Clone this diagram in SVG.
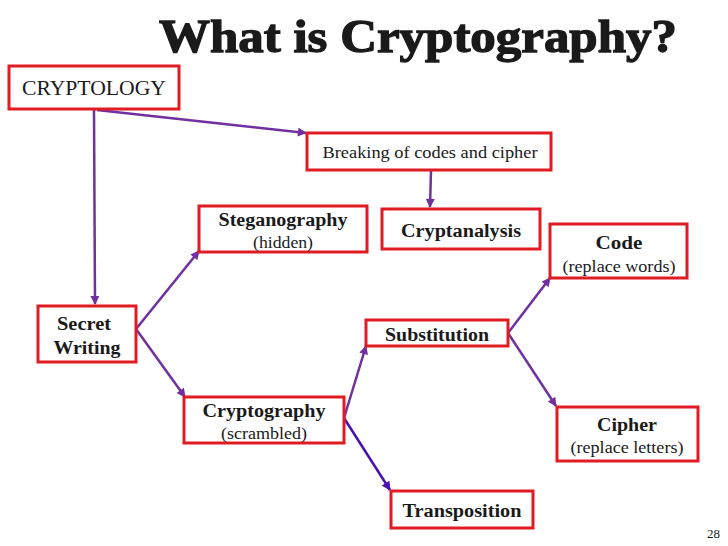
<svg xmlns="http://www.w3.org/2000/svg" width="728" height="546" viewBox="0 0 728 546">
<defs>
<style>
.box{fill:#fff;stroke:#e01b22;stroke-width:3}
.b{font-family:'Liberation Serif', serif;font-weight:bold;font-size:18px;fill:#1a1a1a;text-anchor:middle}
.r{font-family:'Liberation Serif', serif;font-size:17px;fill:#1a1a1a;text-anchor:middle}
.c{fill:none;stroke:#7030a0;stroke-width:2.5}
</style>
<marker id="ah" viewBox="0 0 10 10" refX="9" refY="5" markerUnits="userSpaceOnUse" markerWidth="10" markerHeight="9" orient="auto">
<path d="M0,0 L10,5 L0,10 z" fill="#7030a0"/>
</marker>
<marker id="ah2" viewBox="0 0 10 10" refX="9" refY="5" markerUnits="userSpaceOnUse" markerWidth="10" markerHeight="9" orient="auto">
<path d="M0,0 L10,5 L0,10 z" fill="#4a10b0"/>
</marker>
</defs>
<rect width="728" height="546" fill="#fff"/>
<text x="159" y="52" font-family="'Liberation Serif', serif" font-weight="bold" font-size="46" fill="#1a1a1a" stroke="#1a1a1a" stroke-width="1.3" textLength="518" lengthAdjust="spacingAndGlyphs">What is Cryptography?</text>

<g id="connectors">
<path class="c" d="M94,110 L95,304" marker-end="url(#ah)"/>
<path class="c" d="M97,110 L306,133" marker-end="url(#ah)"/>
<path class="c" d="M431,171 L430,207" marker-end="url(#ah)"/>
<path class="c" d="M136,329 L199,251" marker-end="url(#ah)"/>
<path class="c" d="M136,329 L185,397" marker-end="url(#ah)"/>
<path class="c" d="M344,418 L366,346" marker-end="url(#ah)"/>
<path class="c" d="M344,418 L390,490" style="stroke:#4a10b0" marker-end="url(#ah2)"/>
<path class="c" d="M508,333 L550,278" marker-end="url(#ah)"/>
<path class="c" d="M508,333 L556,406" marker-end="url(#ah)"/>
</g>

<g id="cryptology">
<rect class="box" x="9" y="66" width="170" height="43"/>
<text class="r" x="94" y="95" style="font-size:20px" textLength="144" lengthAdjust="spacingAndGlyphs">CRYPTOLOGY</text>
</g>
<g id="breaking">
<rect class="box" x="307" y="133" width="244" height="37"/>
<text class="r" x="430" y="158" textLength="215" lengthAdjust="spacingAndGlyphs">Breaking of codes and cipher</text>
</g>
<g id="steganography">
<rect class="box" x="199" y="206" width="168" height="46"/>
<text class="b" x="283" y="226" textLength="129" lengthAdjust="spacingAndGlyphs">Steganography</text>
<text class="r" x="283" y="248" textLength="60" lengthAdjust="spacingAndGlyphs">(hidden)</text>
</g>
<g id="cryptanalysis">
<rect class="box" x="382" y="209" width="158" height="40"/>
<text class="b" x="461" y="237" textLength="120" lengthAdjust="spacingAndGlyphs">Cryptanalysis</text>
</g>
<g id="code">
<rect class="box" x="550" y="224" width="137" height="54"/>
<text class="b" x="619" y="249" textLength="47" lengthAdjust="spacingAndGlyphs">Code</text>
<text class="r" x="619" y="272" textLength="113" lengthAdjust="spacingAndGlyphs">(replace words)</text>
</g>
<g id="secret-writing">
<rect class="box" x="38" y="306" width="98" height="56"/>
<text class="b" x="84" y="330" textLength="54" lengthAdjust="spacingAndGlyphs">Secret</text>
<text class="b" x="87" y="354" textLength="67" lengthAdjust="spacingAndGlyphs">Writing</text>
</g>
<g id="substitution">
<rect class="box" x="366" y="320" width="142" height="26"/>
<text class="b" x="437" y="341" textLength="104" lengthAdjust="spacingAndGlyphs">Substitution</text>
</g>
<g id="cryptography">
<rect class="box" x="184" y="397" width="160" height="46"/>
<text class="b" x="264" y="417" textLength="123" lengthAdjust="spacingAndGlyphs">Cryptography</text>
<text class="r" x="264" y="439" textLength="86" lengthAdjust="spacingAndGlyphs">(scrambled)</text>
</g>
<g id="cipher">
<rect class="box" x="557" y="407" width="141" height="54"/>
<text class="b" x="627" y="431" textLength="60" lengthAdjust="spacingAndGlyphs">Cipher</text>
<text class="r" x="627" y="453" textLength="113" lengthAdjust="spacingAndGlyphs">(replace letters)</text>
</g>
<g id="transposition">
<rect class="box" x="391" y="491" width="142" height="37"/>
<text class="b" x="462" y="517" textLength="119" lengthAdjust="spacingAndGlyphs">Transposition</text>
</g>
<text x="720" y="538" font-family="'Liberation Serif', serif" font-size="13" fill="#1a1a1a" text-anchor="end">28</text>
</svg>
